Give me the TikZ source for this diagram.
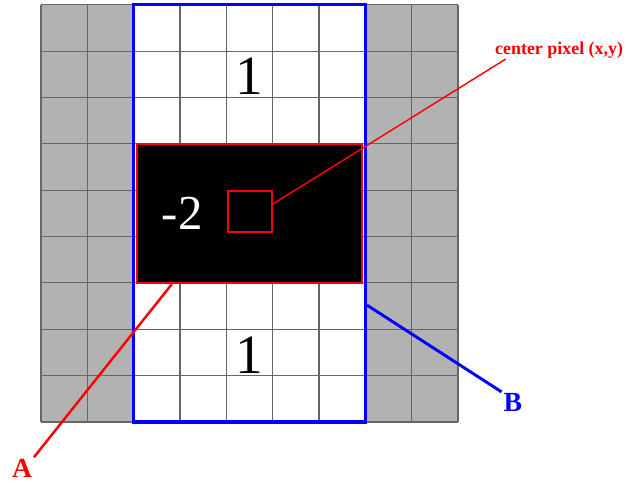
\documentclass[tikz,border=0pt]{standalone}
\usepackage{fontspec}
\setmainfont{Liberation Serif}
\usetikzlibrary{positioning}
\tikzset{
    padding/.style={
        fill=black!30
    },
    gridline/.style={
        draw=black!60,
        line width=0.7pt
    },
    window/.style={
        draw=blue,
        line width=2pt,
        inner sep=0pt,
        minimum width=5cm,
        minimum height=9cm
    },
    negpart/.style={
        draw=red,
        fill=black,
        line width=1.5pt,
        inner sep=0pt,
        minimum width=4.86cm,
        minimum height=3cm
    },
    pixbox/.style={
        draw=red,
        line width=0.9pt,
        inner sep=0pt,
        minimum width=0.95cm,
        minimum height=0.88cm
    },
    weight/.style={
        font=\fontsize{34}{40}\selectfont
    },
    negweight/.style={
        text=white,
        font=\fontsize{30}{36}\selectfont
    },
    callout/.style={
        text=red,
        inner sep=0.5pt,
        font=\bfseries\fontsize{11}{13}\selectfont
    },
    tag/.style={
        inner sep=1pt,
        font=\bfseries\fontsize{17}{20}\selectfont
    },
    redline/.style={
        draw=red,
        line width=0.9pt
    },
    taglineA/.style={
        draw=red,
        line width=1.5pt
    },
    taglineB/.style={
        draw=blue,
        line width=1.8pt
    }
}

\begin{document}
\begin{tikzpicture}
    \useasboundingbox (-0.885,-1.316) rectangle (12.71,9.105);

    \fill[padding] (0,0) rectangle (2,9);
    \fill[padding] (7,0) rectangle (9,9);
    \draw[gridline] (0,0) grid (9,9);

    \node[negpart] (neg) at (4.5,4.5) {};
    \node[negweight] (wneg) at (3.05,4.5) {-2};
    \node[pixbox] (pix) at (4.51,4.54) {};
    \node[weight] (wtop) at (4.5,7.45) {1};
    \node[weight] (wbot) at (4.5,1.45) {1};
    \node[window] (win) at (4.5,4.5) {};

    \node[callout] (lbl) at (11.18,8.03) {center pixel (x,y)};
    \node[tag, text=red] (tagA) at (-0.41,-1.0) {A};
    \node[tag, text=blue] (tagB) at (10.18,0.41) {B};

    \path[redline] ([yshift=0.16cm]pix.east) -- ([xshift=0.25cm]lbl.south west);
    \path[taglineA] ([xshift=0.78cm]neg.south west) -- (tagA.north east);
    \path[taglineB] ([yshift=-1.98cm]win.east) -- (tagB.north west);
\end{tikzpicture}
\end{document}
